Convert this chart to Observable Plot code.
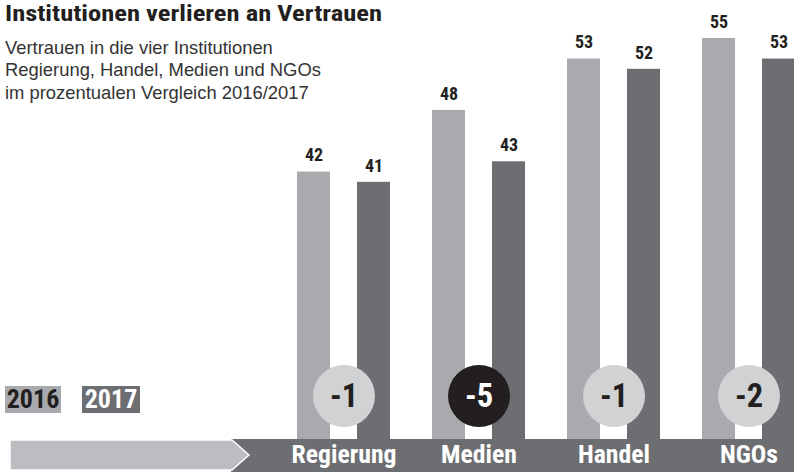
<!DOCTYPE html>
<html><head><meta charset="utf-8">
<script src="https://cdn.jsdelivr.net/npm/d3@7"></script>
<script src="https://cdn.jsdelivr.net/npm/@observablehq/plot@0.6"></script>
<style>
body{margin:0;background:#fff;}
#wrap{position:relative;width:794px;height:472px;overflow:hidden;}
#chart{position:absolute;left:0;top:0;}
.cond{font-family:"Roboto Condensed","Open Sans Condensed",sans-serif;font-weight:bold;}
#title{position:absolute;left:5px;top:1.8px;font-size:22.5px;line-height:23px;color:#231f20;white-space:nowrap;transform-origin:0 0;}
#sub{position:absolute;left:5px;top:36.5px;font-family:"Liberation Sans",Arial,sans-serif;font-size:18.4px;line-height:22.5px;color:#333;white-space:nowrap;}
.leg{position:absolute;top:386px;height:27px;line-height:27px;font-size:26px;text-align:center;}
</style></head>
<body>
<div id="wrap">
  <div id="chart"></div>
  <div id="title" class="cond">Institutionen verlieren an Vertrauen</div>
  <div id="sub">Vertrauen in die vier Institutionen<br>Regierung, Handel, Medien und NGOs<br>im prozentualen Vergleich 2016/2017</div>
  <div id="legend"></div>
</div>
<script>
const institutions = ["Regierung", "Medien", "Handel", "NGOs"];
const values2016 = [42, 48, 53, 55];
const values2017 = [41, 43, 52, 53];
const changes = [-1, -5, -1, -2];
const years = ["2016", "2017"];

const c2016 = "#a9aaad", c2017 = "#6d6e72", cDark = "#231f20", cCircle = "#d1d2d4";
const fontC = '"Roboto Condensed","Open Sans Condensed",sans-serif';

const table = institutions.map((inst, i) => ({inst, v2016: values2016[i], v2017: values2017[i], change: changes[i]}));
const minChange = d3.min(changes);

// stretch title horizontally to the reference width (~377px)
const title = document.getElementById("title");
const tw = title.getBoundingClientRect().width;
title.style.transform = "scaleX(" + (377 / tw) + ")";

// legend
const legend = document.getElementById("legend");
years.forEach((y, i) => {
  const s = document.createElement("div");
  s.className = "leg cond";
  s.textContent = y;
  s.style.left = (i === 0 ? 5 : 82) + "px";
  s.style.width = (i === 0 ? 56 : 58) + "px";
  s.style.background = i === 0 ? c2016 : c2017;
  s.style.color = i === 0 ? cDark : "#fff";
  legend.appendChild(s);
});

const band = (index, scales, values, dims) => {
  const g = d3.create("svg:g");
  g.append("rect").attr("x", 231).attr("y", 439).attr("width", dims.width - 231).attr("height", 33).attr("fill", c2017);
  g.append("polygon").attr("points", "10,440 232,440 249,455 232,470 10,470")
    .attr("fill", "#bcbdc0").attr("stroke", "#fff").attr("stroke-width", 1.5);
  return g.node();
};

const txt = {fontWeight: "bold", fontFamily: fontC, lineAnchor: "middle"};

const plot = Plot.plot({
  width: 794, height: 472, margin: 0,
  x: {domain: institutions, range: [296, 796], paddingInner: 0.3147, paddingOuter: 0, axis: null},
  y: {domain: [0, 55], range: [603, 38], axis: null},
  color: {type: "identity"},
  marks: [
    Plot.barY(table, {x: "inst", y: "v2016", fill: c2016, insetRight: 60}),
    Plot.barY(table, {x: "inst", y: "v2017", fill: c2017, insetLeft: 60}),
    Plot.text(table, {...txt, x: "inst", y: "v2016", text: d => String(d.v2016), dx: -30, dy: -16.5, fontSize: 18, fill: cDark}),
    Plot.text(table, {...txt, x: "inst", y: "v2017", text: d => String(d.v2017), dx: 30, dy: -16.5, fontSize: 18, fill: cDark}),
    band,
    Plot.dot(table, {x: "inst", frameAnchor: "bottom", dy: -76.5, r: 31, stroke: null, fill: d => d.change === minChange ? cDark : cCircle}),
    Plot.text(table, {...txt, x: "inst", frameAnchor: "bottom", dy: -75.8, text: d => String(d.change), fontSize: 32.5, fill: d => d.change === minChange ? "#fff" : cDark}),
    Plot.text(table, {...txt, x: "inst", frameAnchor: "bottom", dy: -17.3, text: "inst", fontSize: 25.7, fill: "#fff"})
  ]
});
document.getElementById("chart").appendChild(plot);
</script>
</body></html>
